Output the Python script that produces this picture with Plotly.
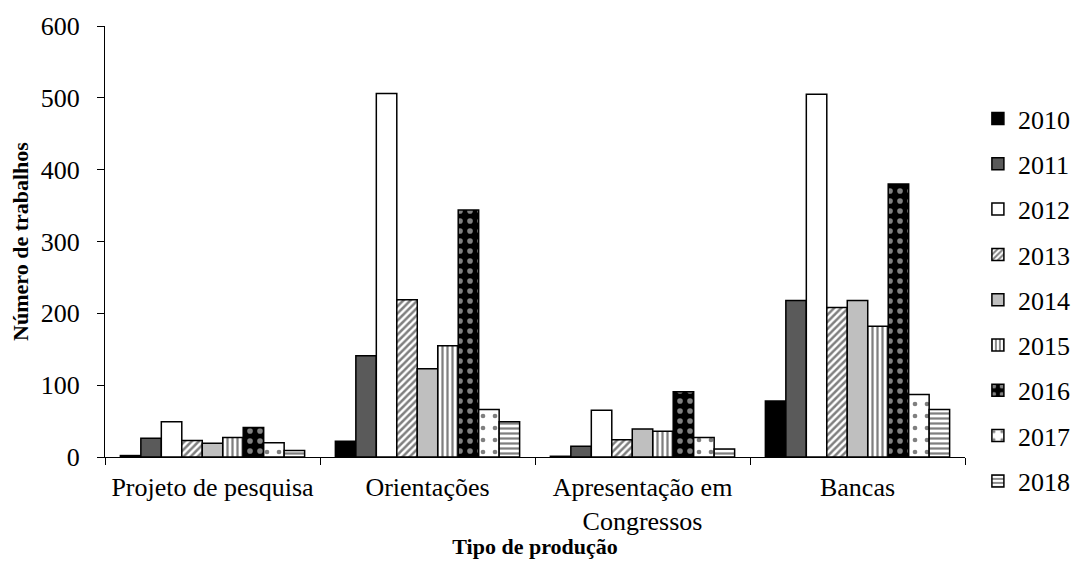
import plotly.graph_objects as go

categories = ["Projeto de pesquisa", "Orientações", "Apresentação em<br>Congressos", "Bancas"]
years = ["2010", "2011", "2012", "2013", "2014", "2015", "2016", "2017", "2018"]
v2010 = [2, 22, 1, 78]
v2011 = [26, 141, 15, 218]
v2012 = [49, 506, 65, 505]
v2013 = [23, 219, 24, 208]
v2014 = [19, 123, 39, 218]
v2015 = [27, 155, 36, 182]
v2016 = [41, 344, 91, 380]
v2017 = [20, 66, 27, 87]
v2018 = [9, 49, 11, 66]
values = [v2010, v2011, v2012, v2013, v2014, v2015, v2016, v2017, v2018]

styles = [
    dict(color="black"),
    dict(color="#5a5a5a"),
    dict(color="white"),
    dict(color="white", pattern=dict(shape="/", fgcolor="black", bgcolor="white", size=5, solidity=0.5)),
    dict(color="#bfbfbf"),
    dict(color="white", pattern=dict(shape="|", fgcolor="black", bgcolor="white", size=5, solidity=0.45)),
    dict(color="black", pattern=dict(shape=".", fgcolor="white", bgcolor="black", size=10, solidity=0.25)),
    dict(color="white", pattern=dict(shape=".", fgcolor="black", bgcolor="white", size=12, solidity=0.12)),
    dict(color="white", pattern=dict(shape="-", fgcolor="black", bgcolor="white", size=5, solidity=0.45)),
]

fig = go.Figure()
for y, vals, st in zip(years, values, styles):
    marker = dict(st)
    marker["line"] = dict(color="black", width=1.5)
    fig.add_trace(go.Bar(x=categories, y=vals, name=y, marker=marker, legendgroup=y))

font = "Liberation Serif"
fig.update_layout(
    width=1075, height=551,
    barmode="group", bargap=0.143, bargroupgap=0,
    plot_bgcolor="white", paper_bgcolor="white",
    margin=dict(l=97, r=118, t=18, b=102, autoexpand=False),
    font=dict(family=font, size=26, color="black"),
    legend=dict(x=1.015, xanchor="left", y=0.364, yanchor="middle",
                font=dict(size=26), tracegroupgap=8.5, itemwidth=30),
    xaxis=dict(showline=True, linecolor="black", linewidth=1, ticks="outside",
               tickson="boundaries", ticklen=7, tickcolor="black", ticklabelstandoff=7,
               title=dict(text="<b>Tipo de produção</b>", font=dict(size=22), standoff=8)),
    yaxis=dict(range=[0, 600], dtick=100, showline=True, linecolor="black", linewidth=1,
               ticks="outside", ticklen=7, tickcolor="black", showgrid=False, zeroline=False,
               ticklabelstandoff=12,
               title=dict(text="<b>Número de trabalhos</b>", font=dict(size=22), standoff=10)),
)
fig.write_html("out.html")
